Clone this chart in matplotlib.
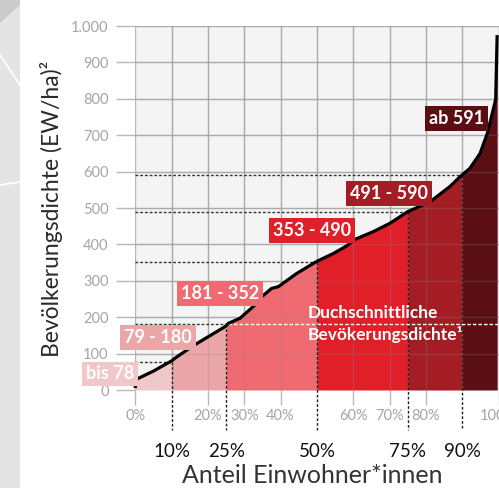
import matplotlib
matplotlib.use("Agg")
import matplotlib.pyplot as plt
import numpy as np
from matplotlib.patches import Rectangle, Polygon
from matplotlib.lines import Line2D

plt.rcParams['font.family'] = ['Liberation Sans Narrow', 'Lato', 'DejaVu Sans']

# ---- data ----
curve_pct = [0, 0, 5, 10, 11, 16, 24.7, 25.6, 28.8, 33, 34.3, 37.5, 39.4, 44.4, 49.9,
             54.5, 58.2, 60.5, 65.5, 70.1, 75, 81.1, 86.6, 89.4, 92.1, 94.9, 96.9,
             99.0, 99.2, 99.6]
curve_val = [5, 28, 52, 80, 88, 122, 174, 183, 197, 234, 252, 279, 284, 320, 353,
             375, 396, 414, 435, 458, 490, 517, 559, 586, 609, 650, 705,
             790, 800, 975]

seg_bounds = [0, 10, 25, 50, 75, 90, 100]
seg_colors = ['#f0c8c9', '#eba6a7', '#f06a71', '#e01f29', '#a51d24', '#5b0f14']
thresholds = [78, 180, 352, 490, 590]
marker_pcts = [10, 25, 50, 75, 90]
range_labels = ['bis 78', '79 - 180', '181 - 352', '353 - 490', '491 - 590', 'ab 591']
label_pos = [(-7.0, 44), (6.2, 143), (23.3, 264), (48.6, 437), (69.8, 541), (88.3, 745)]
average_density = 181
y_ticks = [0, 100, 200, 300, 400, 500, 600, 700, 800, 900, 1000]
y_ticklabels = ['0', '100', '200', '300', '400', '500', '600', '700', '800', '900', '1.000']
x_ticks = [0, 20, 30, 40, 60, 70, 80, 100]
x_ticklabels = ['0%', '20%', '30%', '40%', '60%', '70%', '80%', '100%']
marker_labels = ['10%', '25%', '50%', '75%', '90%']

W, H = 499, 488
fig = plt.figure(figsize=(W / 100, H / 100), dpi=100)
fig.patch.set_facecolor('white')

# decorative left strip
fig.patches.append(Rectangle((0, 0), 20 / W, 1, transform=fig.transFigure,
                             facecolor='#e4e4e4', edgecolor='none', zorder=0))
fig.patches.append(Polygon([(0, 1), (20 / W, 1), (20 / W, 1 - 5 / H), (0, 1 - 23 / H)],
                           closed=True, transform=fig.transFigure,
                           facecolor='#cbcbcb', edgecolor='none', zorder=0))
fig.lines.append(Line2D([0, 20 / W], [1 - 55 / H, 1 - 85 / H], transform=fig.transFigure,
                        color='white', lw=1.3))
fig.lines.append(Line2D([0, 20 / W], [1 - 185 / H, 1 - 182 / H], transform=fig.transFigure,
                        color='white', lw=1.3))

left, right = 135.3 / W, 498.6 / W
bottom, top = 1 - 390 / H, 1 - 26 / H
ax = fig.add_axes([left, bottom, right - left, top - bottom])
ax.set_facecolor('#f4f4f4')
ax.set_xlim(0, 100)
ax.set_ylim(0, 1000)
for s in ax.spines.values():
    s.set_visible(False)

# grid below
for gx in range(0, 101, 10):
    ax.axvline(gx, color='#b8b8b8', lw=1, zorder=1)
for gy in range(0, 1001, 100):
    ax.axhline(gy, color='#b8b8b8', lw=1, zorder=1)

# fills
cx = np.array(curve_pct, dtype=float)
cy = np.array(curve_val, dtype=float)
for i in range(len(seg_bounds) - 1):
    a, b = seg_bounds[i], min(seg_bounds[i + 1], cx[-1])
    mask = (cx > a) & (cx < b)
    xs = np.concatenate([[a], cx[mask], [b]])
    ys = np.concatenate([[np.interp(a, cx[1:], cy[1:])], cy[mask], [np.interp(b, cx, cy)]])
    if a == 0:
        xs = np.concatenate([[0], xs])
        ys = np.concatenate([[cy[0]], ys])
    ax.fill_between(xs, 0, ys, color=seg_colors[i], lw=0, zorder=2)

# faint grid over fills
for gx in range(10, 101, 10):
    ax.axvline(gx, color='#888888', alpha=0.25, lw=1, zorder=3)
for gy in range(100, 1001, 100):
    ax.axhline(gy, color='#888888', alpha=0.25, lw=1, zorder=3)

# threshold dashed lines
for t, p in zip(thresholds, marker_pcts):
    ax.plot([0, p], [t, t], color='#333333', lw=1, ls=(0, (2, 1.4)), zorder=4)
    ax.plot([p, p], [t, -110], color='#222222', lw=1, ls=(0, (2, 1.4)), zorder=4,
            clip_on=False)

# average line
ax.plot([25.6, 100], [average_density, average_density], color='white', lw=1,
        ls=(0, (2.5, 1.5)), zorder=4)

# curve
ax.plot(cx, cy, color='black', lw=2.3, zorder=6, solid_joinstyle='round',
        solid_capstyle='butt', clip_on=False)

# range labels
for lab, (px, py), col in zip(range_labels, label_pos, seg_colors):
    ax.text(px, py, lab, ha='center', va='center', color='white', fontsize=13,
            fontweight='bold', zorder=7, clip_on=False,
            bbox=dict(boxstyle='square,pad=0.22', facecolor=col, edgecolor='none'))

ax.text(47.3, 180.5, 'Duchschnittliche\nBevökerungsdichte\u00b9', ha='left', va='center',
        color='white', fontsize=12.5, fontweight='bold', linespacing=1.35, zorder=7)

# ticks
ax.set_yticks(y_ticks)
ax.set_yticklabels(y_ticklabels)
ax.set_xticks(x_ticks)
ax.set_xticklabels(x_ticklabels)
ax.tick_params(axis='y', length=13.7, width=1, color='#b8b8b8', pad=5.5,
               labelcolor='#a5a5a5', labelsize=10.5)
ax.tick_params(axis='x', length=10.8, width=1, color='#b8b8b8', pad=3,
               labelcolor='#a5a5a5', labelsize=10.5)

for p, lab in zip(marker_pcts, marker_labels):
    ax.text(p, -183, lab, ha='center', va='baseline', fontsize=13.5, color='#111111',
            clip_on=False)

fig.text(312 / W, 1 - 483 / H, 'Anteil Einwohner*innen', ha='center', va='baseline',
         fontsize=18, color='#333333')
fig.text(52 / W, 1 - 209 / H, 'Bevölkerungsdichte (EW/ha)\u00b2', ha='center', va='center',
         rotation=90, fontsize=16.5, color='#2a2a2a')

fig.savefig('out.png', dpi=100)
